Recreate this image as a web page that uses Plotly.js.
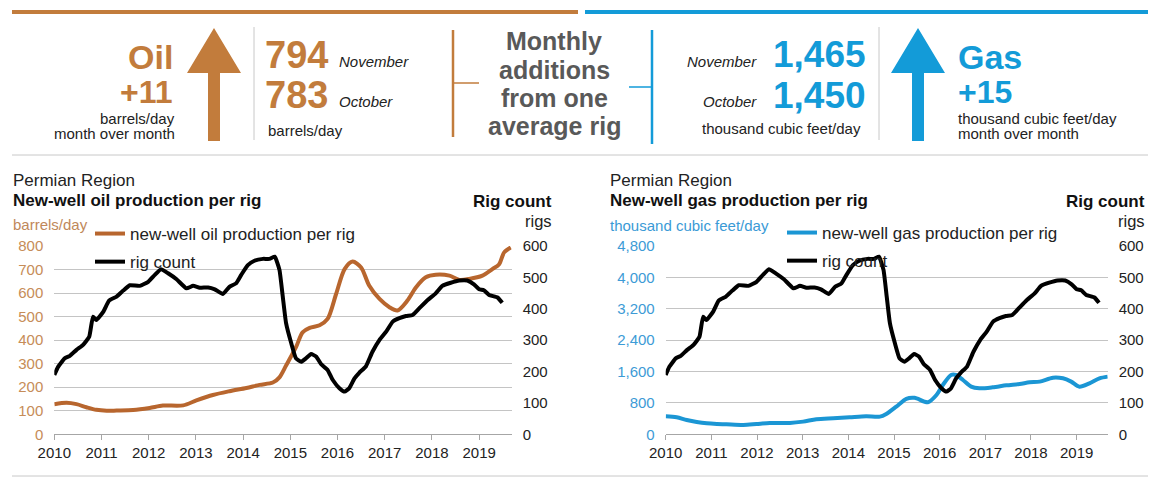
<!DOCTYPE html>
<html><head><meta charset="utf-8">
<script src="https://cdn.plot.ly/plotly-3.0.1.min.js"></script>
<style>html,body{margin:0;padding:0;background:#fff}#chart{width:1168px;height:486px}</style>
</head><body><div id="chart"></div>
<script>
// ---------- data ----------
const yearTicks = [2010, 2011, 2012, 2013, 2014, 2015, 2016, 2017, 2018, 2019];
const yearLabels = ['2010','2011','2012','2013','2014','2015','2016','2017','2018','2019'];
const oilTicks = [0, 100, 200, 300, 400, 500, 600, 700, 800];
const oilTickLabels = ['0','100','200','300','400','500','600','700','800'];
const gasTicks = [0, 800, 1600, 2400, 3200, 4000, 4800];
const gasTickLabels = ['0','800','1,600','2,400','3,200','4,000','4,800'];
const rigTicks = [0, 100, 200, 300, 400, 500, 600];
const rigTickLabels = ['0','100','200','300','400','500','600'];

const rigYears = [2010.00,2010.08,2010.22,2010.33,2010.47,2010.61,2010.74,2010.82,2010.89,
  2011.04,2011.16,2011.32,2011.46,2011.60,2011.81,2011.99,
  2012.13,2012.26,2012.41,2012.59,2012.80,2012.94,
  2013.08,2013.26,2013.40,2013.57,2013.71,2013.85,2013.96,
  2014.10,2014.24,2014.42,2014.56,2014.67,2014.77,2014.84,2014.91,
  2015.02,2015.12,2015.23,2015.33,2015.44,2015.55,2015.65,2015.79,2015.90,
  2016.04,2016.15,2016.25,2016.36,2016.46,2016.60,2016.74,2016.89,
  2017.03,2017.17,2017.31,2017.45,2017.59,2017.73,2017.91,
  2018.08,2018.22,2018.40,2018.58,2018.75,2018.89,
  2019.00,2019.10,2019.21,2019.39,2019.49];
const rigCount = [189,215,242,250,269,285,311,375,364,
  391,426,439,458,475,473,486,
  508,526,513,494,465,473,
  467,468,462,447,470,481,508,
  539,553,559,559,566,524,439,354,
  290,242,231,242,256,247,224,205,173,
  147,136,147,178,196,216,263,301,
  327,359,370,377,380,401,428,
  449,473,483,490,490,478,
  462,459,444,436,419];

const oilYears = [2010.00,2010.26,2010.47,2010.68,2010.89,2011.11,2011.32,2011.67,2012.02,2012.30,2012.73,
  2013.01,2013.36,2013.71,2014.07,2014.35,2014.63,2014.77,2014.91,2015.12,2015.26,2015.41,2015.62,2015.79,2015.97,
  2016.15,2016.32,2016.50,2016.67,2016.89,2017.10,2017.27,2017.48,2017.66,2017.87,2018.08,2018.37,2018.58,2018.79,
  2019.07,2019.28,2019.42,2019.53,2019.67];
const oilPerRig = [128,134,128,115,104,100,101,103,112,122,123,
  144,167,183,197,210,220,242,292,370,433,452,463,490,596,
  702,734,709,632,575,540,526,568,624,667,678,674,656,660,
  674,702,721,773,794];

const gasYears = [2010.00,2010.24,2010.46,2010.68,2010.90,2011.12,2011.33,2011.70,2011.99,2012.28,2012.72,
  2013.01,2013.30,2013.67,2014.03,2014.39,2014.69,2014.83,2015.05,2015.27,2015.45,2015.74,2015.93,
  2016.07,2016.25,2016.36,2016.51,2016.69,2016.87,2017.16,2017.46,2017.75,2017.97,2018.19,2018.48,2018.70,2018.88,
  2019.06,2019.28,2019.50,2019.68];
const gasPerRig = [460,433,365,314,280,263,255,238,263,289,289,
  323,382,408,433,459,450,518,705,905,930,816,1002,
  1257,1512,1512,1385,1215,1172,1198,1249,1283,1325,1342,1444,1427,1342,
  1215,1300,1427,1470];

// ---------- styling ----------
const W = 1168, H = 486;
const P = x => x / W;
const Q = y => 1 - y / H;
const BROWN = '#c27c3c', BLUE = '#139bd8', OILC = '#b8662e', GASC = '#1b96d4';
const DARK = '#222222', GREY = '#595959';
const FONT = 'Liberation Sans, Arial, sans-serif';
const yDom = [Q(434.3), Q(246)];

const traces = [
  {x: oilYears, y: oilPerRig, xaxis: 'x', yaxis: 'y', mode: 'lines', name: 'new-well oil production per rig',
   line: {color: OILC, width: 4, shape: 'spline', smoothing: 0.8}, legend: 'legend', legendgroup: 'a', hoverinfo: 'skip'},
  {x: rigYears, y: rigCount, xaxis: 'x', yaxis: 'y2', mode: 'lines', name: 'rig count',
   line: {color: '#000', width: 4, shape: 'spline', smoothing: 0.4}, legend: 'legend', legendgroup: 'b', hoverinfo: 'skip'},
  {x: gasYears, y: gasPerRig, xaxis: 'x2', yaxis: 'y3', mode: 'lines', name: 'new-well gas production per rig',
   line: {color: GASC, width: 4, shape: 'spline', smoothing: 0.8}, legend: 'legend2', legendgroup: 'c', hoverinfo: 'skip'},
  {x: rigYears, y: rigCount, xaxis: 'x2', yaxis: 'y4', mode: 'lines', name: 'rig count',
   line: {color: '#000', width: 4, shape: 'spline', smoothing: 0.4}, legend: 'legend2', legendgroup: 'd', hoverinfo: 'skip'}
];

function xAx(dom, anchor, end) {
  return {domain: dom, anchor: anchor, range: [2010, end], tickvals: yearTicks, ticktext: yearLabels,
    ticks: 'outside', ticklen: 5, tickcolor: '#a6a6a6', showline: true, linecolor: '#a6a6a6', linewidth: 1,
    showgrid: false, zeroline: false, tickfont: {size: 15, color: DARK, family: FONT}, fixedrange: true};
}
function yLeft(anchor, range, vals, txt, color) {
  return {domain: yDom, anchor: anchor, range: range, tickvals: vals, ticktext: txt, showgrid: true,
    gridcolor: '#c4c4c4', gridwidth: 1, zeroline: false, showline: false, ticks: '', ticklabelstandoff: 10,
    tickfont: {size: 15, color: color, family: FONT}, fixedrange: true};
}
function yRight(anchor, over) {
  return {overlaying: over, side: 'right', anchor: anchor, range: [0, 600], tickvals: rigTicks, ticktext: rigTickLabels,
    showgrid: false, zeroline: false, showline: false, ticks: '', ticklabelstandoff: 10,
    tickfont: {size: 15, color: DARK, family: FONT}, fixedrange: true};
}

function ann(text, x, y, xa, size, color) {
  return {text: text, x: P(x), y: Q(y), xref: 'paper', yref: 'paper', xanchor: xa, yanchor: 'middle',
    showarrow: false, font: {size: size, color: color, family: FONT}};
}
function line(x0, y0, x1, y1, color, w) {
  return {type: 'line', xref: 'paper', yref: 'paper', x0: P(x0), y0: Q(y0), x1: P(x1), y1: Q(y1),
    line: {color: color, width: w}};
}
function arrow(cx, color) {
  const pts = [[cx, 28], [cx + 27, 73], [cx + 6, 73], [cx + 6, 141], [cx - 6, 141], [cx - 6, 73], [cx - 27, 73]];
  return {type: 'path', xref: 'paper', yref: 'paper', fillcolor: color, line: {width: 0, color: color},
    path: 'M' + pts.map(p => P(p[0]) + ',' + Q(p[1])).join('L') + 'Z'};
}

const shapes = [
  line(12, 12, 578, 12, BROWN, 4),
  line(585, 12, 1148, 12, BLUE, 4),
  line(12, 155, 1148, 155, '#c8c8c8', 1),
  line(12, 476, 1148, 476, '#c8c8c8', 1),
  line(254, 27, 254, 140, '#c8c8c8', 1),
  line(879, 27, 879, 140, '#c8c8c8', 1),
  line(453, 30, 453, 137, BROWN, 2.5),
  line(453, 83, 479, 83, BROWN, 1.5),
  line(652, 30, 652, 144, BLUE, 2.5),
  line(629, 87, 652, 87, BLUE, 1.5),
  arrow(214, BROWN),
  arrow(918, BLUE)
];

const annotations = [
  // oil header
  ann('<b>Oil</b>', 175, 57, 'right', 34, BROWN),
  ann('<b>+11</b>', 175, 92, 'right', 32, BROWN),
  ann('barrels/day', 177, 118, 'right', 15, DARK),
  ann('month over month', 177, 133, 'right', 15, DARK),
  ann('<b>794</b>', 263, 55, 'left', 38, BROWN),
  ann('<i>November</i>', 337, 62, 'left', 15, DARK),
  ann('<b>783</b>', 263, 95, 'left', 38, BROWN),
  ann('<i>October</i>', 337, 101, 'left', 15, DARK),
  ann('barrels/day', 266, 130, 'left', 15, DARK),
  // centre
  ann('<b>Monthly</b>', 554, 41, 'center', 25, GREY),
  ann('<b>additions</b>', 554, 70, 'center', 25, GREY),
  ann('<b>from one</b>', 554, 98, 'center', 25, GREY),
  ann('<b>average rig</b>', 554, 126, 'center', 25, GREY),
  // gas header
  ann('<i>November</i>', 759, 62, 'right', 15, DARK),
  ann('<b>1,465</b>', 771, 55, 'left', 37, BLUE),
  ann('<i>October</i>', 759, 101, 'right', 15, DARK),
  ann('<b>1,450</b>', 771, 95, 'left', 37, BLUE),
  ann('thousand cubic feet/day', 781, 128, 'center', 15, DARK),
  ann('<b>Gas</b>', 956, 57, 'left', 34, BLUE),
  ann('<b>+15</b>', 956, 92, 'left', 32, BLUE),
  ann('thousand cubic feet/day', 956, 118, 'left', 15, DARK),
  ann('month over month', 956, 133, 'left', 15, DARK),
  // oil chart titles
  ann('Permian Region', 11, 180, 'left', 17, DARK),
  ann('<b>New-well oil production per rig</b>', 11, 200, 'left', 17, '#111'),
  ann('barrels/day', 11, 224, 'left', 15, '#c0885a'),
  ann('<b>Rig count</b>', 554, 201, 'right', 17, '#111'),
  ann('rigs', 554, 221, 'right', 16.5, DARK),
  // gas chart titles
  ann('Permian Region', 608, 180, 'left', 17, DARK),
  ann('<b>New-well gas production per rig</b>', 608, 200, 'left', 17, '#111'),
  ann('thousand cubic feet/day', 608, 225, 'left', 15, '#3a9ad6'),
  ann('<b>Rig count</b>', 1147, 201, 'right', 17, '#111'),
  ann('rigs', 1147, 221, 'right', 16.5, DARK)
];

const legendBase = {xanchor: 'left', yanchor: 'top', bgcolor: 'rgba(0,0,0,0)', borderwidth: 0,
  font: {size: 17, color: DARK, family: FONT}, itemwidth: 30, tracegroupgap: 3, orientation: 'v'};

const layout = {
  width: W, height: H, margin: {l: 0, r: 0, t: 0, b: 0}, paper_bgcolor: '#fff', plot_bgcolor: '#fff',
  font: {family: FONT, color: DARK},
  xaxis: xAx([P(54.3), P(511.7)], 'y', 2019.69),
  yaxis: yLeft('x', [0, 800], oilTicks, oilTickLabels, '#c68c58'),
  yaxis2: yRight('x', 'y'),
  xaxis2: xAx([P(665.7), P(1107.7)], 'y3', 2019.68),
  yaxis3: yLeft('x2', [0, 4800], gasTicks, gasTickLabels, '#3d9bd6'),
  yaxis4: yRight('x2', 'y3'),
  showlegend: true,
  legend: Object.assign({}, legendBase, {x: P(90), y: Q(216)}),
  legend2: Object.assign({}, legendBase, {x: P(782), y: Q(215)}),
  shapes: shapes,
  annotations: annotations,
  hovermode: false
};

Plotly.newPlot('chart', traces, layout, {displayModeBar: false, responsive: false});
</script>
</body></html>
